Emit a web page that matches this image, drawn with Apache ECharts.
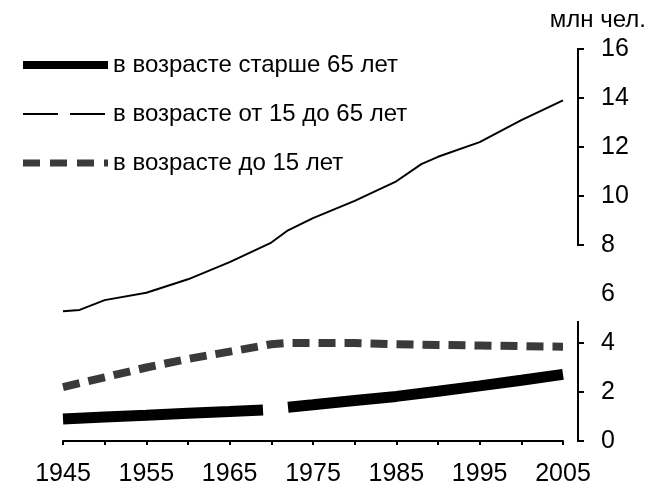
<!DOCTYPE html>
<html>
<head>
<meta charset="utf-8">
<script src="https://cdn.jsdelivr.net/npm/echarts@6.0.0/dist/echarts.min.js"></script>
<style>
  html, body { margin: 0; padding: 0; background: #fff; }
  #chart { width: 648px; height: 497px; }
</style>
</head>
<body>
<div id="chart"></div>
<script>
const FONT = '"Liberation Sans", Arial, sans-serif';

// население по возрастам, млн чел.
const seriesNames = ['в возрасте старше 65 лет', 'в возрасте от 15 до 65 лет', 'в возрасте до 15 лет'];

const yearsOld = [1945, 1950, 1955, 1960, 1965, 1969, 1970, 1972, 1975, 1980, 1985, 1990, 1995, 2000, 2005];
const valuesOld = [0.9, 0.98, 1.05, 1.13, 1.2, 1.27, null, 1.38, 1.48, 1.65, 1.82, 2.03, 2.25, 2.48, 2.72];

const yearsMid = [1945, 1947, 1950, 1955, 1960, 1965, 1970, 1972, 1975, 1980, 1985, 1988, 1990, 1995, 2000, 2005];
const valuesMid = [5.3, 5.35, 5.75, 6.05, 6.6, 7.3, 8.1, 8.6, 9.1, 9.8, 10.6, 11.3, 11.6, 12.2, 13.1, 13.9];

const yearsYoung = [1945, 1950, 1955, 1960, 1965, 1970, 1972, 1975, 1980, 1985, 1990, 1995, 2000, 2005];
const valuesYoung = [2.2, 2.6, 3.0, 3.35, 3.65, 3.95, 4.0, 4.0, 4.0, 3.95, 3.92, 3.9, 3.87, 3.85];

// y axis drawn as broken bracket: pieces of the axis line and tick values
const axisPieces = [[8, 16], [0, 4.9]];
const axisTicks = [0, 2, 4, 8, 10, 12, 14, 16];

const pairs = (xs, ys) => xs.map((x, i) => [x, ys[i] === null ? '-' : ys[i]]);

const AXIS_OFFSET = 15;
const hideMarker = { opacity: 0 };

const chart = echarts.init(document.getElementById('chart'), null, { renderer: 'canvas' });

chart.setOption({
  animation: false,
  backgroundColor: '#fff',
  textStyle: { fontFamily: FONT },
  graphic: [{
    type: 'text',
    right: 2,
    top: 8,
    style: { text: 'млн чел.', font: '24px ' + FONT, fill: '#000' }
  }],
  legend: {
    orient: 'vertical',
    left: 14,
    top: 48,
    itemWidth: 85,
    itemHeight: 14,
    itemGap: 25,
    textStyle: { fontFamily: FONT, fontSize: 24, color: '#000' },
    data: [
      { name: seriesNames[0], itemStyle: hideMarker, lineStyle: { width: 8, color: '#000', type: 'solid' } },
      { name: seriesNames[1], itemStyle: hideMarker, lineStyle: { width: 2, color: '#000', type: [35, 12] } },
      { name: seriesNames[2], itemStyle: hideMarker, lineStyle: { width: 7, color: '#3a3a3a', type: [17, 10] } }
    ]
  },
  grid: { left: 63, right: 85, top: 49, bottom: 56 },
  xAxis: {
    type: 'value',
    min: 1945,
    max: 2005,
    interval: 5,
    offset: 6,
    axisLine: { show: true, lineStyle: { color: '#000', width: 2 } },
    axisTick: { show: true, length: 4, lineStyle: { color: '#000', width: 2 } },
    splitLine: { show: false },
    axisLabel: {
      color: '#000',
      fontFamily: FONT,
      fontSize: 25,
      margin: 15,
      formatter: (v) => ((v - 1945) % 10 === 0 ? String(v) : '')
    }
  },
  yAxis: {
    type: 'value',
    position: 'right',
    min: 0,
    max: 16,
    interval: 2,
    offset: AXIS_OFFSET,
    axisLine: { show: false },
    axisTick: { show: false },
    splitLine: { show: false },
    axisLabel: { color: '#000', fontFamily: FONT, fontSize: 25, margin: 23 }
  },
  series: [
    {
      name: seriesNames[0],
      type: 'line',
      symbol: 'none',
      connectNulls: false,
      lineStyle: { width: 11, color: '#000', cap: 'butt' },
      itemStyle: { color: '#000' },
      data: pairs(yearsOld, valuesOld)
    },
    {
      name: seriesNames[1],
      type: 'line',
      symbol: 'none',
      lineStyle: { width: 2, color: '#000' },
      itemStyle: { color: '#000' },
      data: pairs(yearsMid, valuesMid)
    },
    {
      name: seriesNames[2],
      type: 'line',
      symbol: 'none',
      lineStyle: { width: 8, color: '#3a3a3a', type: [17, 9] },
      itemStyle: { color: '#3a3a3a' },
      data: pairs(yearsYoung, valuesYoung)
    },
    {
      type: 'custom',
      silent: true,
      clip: false,
      data: axisPieces,
      renderItem: (params, api) => {
        const top = api.coord([2005, api.value(1)]);
        const bot = api.coord([2005, api.value(0)]);
        const x = top[0] + AXIS_OFFSET;
        return {
          type: 'line',
          shape: { x1: x, y1: top[1], x2: x, y2: bot[1] },
          style: { stroke: '#000', lineWidth: 2 }
        };
      }
    },
    {
      type: 'custom',
      silent: true,
      clip: false,
      data: axisTicks.map((v) => [v]),
      renderItem: (params, api) => {
        const p = api.coord([2005, api.value(0)]);
        const x = p[0] + AXIS_OFFSET;
        return {
          type: 'line',
          shape: { x1: x - 1, y1: p[1], x2: x + 6, y2: p[1] },
          style: { stroke: '#000', lineWidth: 2 }
        };
      }
    }
  ]
});
</script>
</body>
</html>
